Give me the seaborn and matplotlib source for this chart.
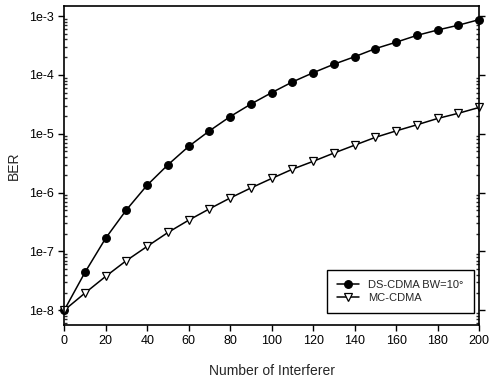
import numpy as np
import pandas as pd
import matplotlib
matplotlib.use("Agg")
import matplotlib.pyplot as plt
import matplotlib.ticker as mticker
import seaborn as sns

# values
interferers = [0, 10, 20, 30, 40, 50, 60, 70, 80, 90, 100,
               110, 120, 130, 140, 150, 160, 170, 180, 190, 200]
ber_ds = [1.0e-8, 4.4e-8, 1.68e-7, 5.1e-7, 1.34e-6, 2.97e-6, 6.1e-6,
          1.12e-5, 1.96e-5, 3.2e-5, 5.0e-5, 7.6e-5, 1.09e-4, 1.52e-4,
          2.04e-4, 2.8e-4, 3.6e-4, 4.7e-4, 5.8e-4, 7.0e-4, 8.7e-4]
ber_mc = [1.0e-8, 1.96e-8, 3.77e-8, 7.0e-8, 1.22e-7, 2.1e-7, 3.4e-7,
          5.3e-7, 8.1e-7, 1.2e-6, 1.74e-6, 2.5e-6, 3.4e-6, 4.7e-6,
          6.4e-6, 8.7e-6, 1.12e-5, 1.42e-5, 1.82e-5, 2.23e-5, 2.8e-5]
labels = ["DS-CDMA BW=10°", "MC-CDMA"]
y_ticks = [1e-8, 1e-7, 1e-6, 1e-5, 1e-4, 1e-3]
y_tick_labels = ["1e-8", "1e-7", "1e-6", "1e-5", "1e-4", "1e-3"]

df = pd.DataFrame({
    "Number of Interferer": interferers * 2,
    "BER": ber_ds + ber_mc,
    "scheme": [labels[0]] * len(ber_ds) + [labels[1]] * len(ber_mc),
})

sns.set_theme(style="ticks")
plt.rcParams["font.family"] = ["Liberation Sans", "DejaVu Sans"]

fig = plt.figure(figsize=(4.9, 3.79), dpi=100)
ax = fig.add_axes([0.131, 0.1425, 0.847, 0.8415])

sns.lineplot(data=df, x="Number of Interferer", y="BER", hue="scheme",
             style="scheme", markers={labels[0]: "o", labels[1]: "v"},
             dashes=False, palette={labels[0]: "black", labels[1]: "black"},
             markersize=5.5, linewidth=1.1, markeredgecolor="black",
             markeredgewidth=0.9, ax=ax, legend=True)

# open triangles for MC-CDMA, keep edge markers whole
for line in ax.lines:
    line.set_clip_on(False)
    if line.get_marker() == "v":
        line.set_markerfacecolor("white")

ax.set_yscale("log")
ax.set_xlim(0, 200)
ax.set_ylim(10 ** -8.25, 10 ** -2.83)
ax.set_xticks(range(0, 201, 20))
ax.set_yticks(y_ticks)
ax.yaxis.set_major_formatter(mticker.FixedFormatter(y_tick_labels))
ax.yaxis.set_minor_locator(mticker.LogLocator(base=10, subs=np.arange(2, 10)))
ax.yaxis.set_minor_formatter(mticker.NullFormatter())

ax.tick_params(axis="both", which="major", direction="out", length=4,
               width=1, labelsize=9, colors="black")
ax.tick_params(axis="y", which="minor", direction="in", length=2,
               right=True, left=True)
ax.tick_params(axis="y", which="major", right=True)
for s in ax.spines.values():
    s.set_visible(True)
    s.set_color("black")
    s.set_linewidth(1.2)

ax.set_xlabel("Number of Interferer", fontsize=10, labelpad=12)
ax.set_ylabel("BER", fontsize=10, labelpad=6)

handles, lbls = ax.get_legend_handles_labels()
for h in handles:
    if h.get_marker() == "v":
        h.set_markerfacecolor("white")
leg = ax.legend(handles, lbls, loc="lower right", bbox_to_anchor=(1.0, 0.02),
                fontsize=8, frameon=True, fancybox=False, framealpha=1,
                edgecolor="black", borderpad=0.9, handlelength=2.0,
                labelspacing=0.3)
leg.get_frame().set_linewidth(1.0)

fig.savefig("out.png", dpi=100)
